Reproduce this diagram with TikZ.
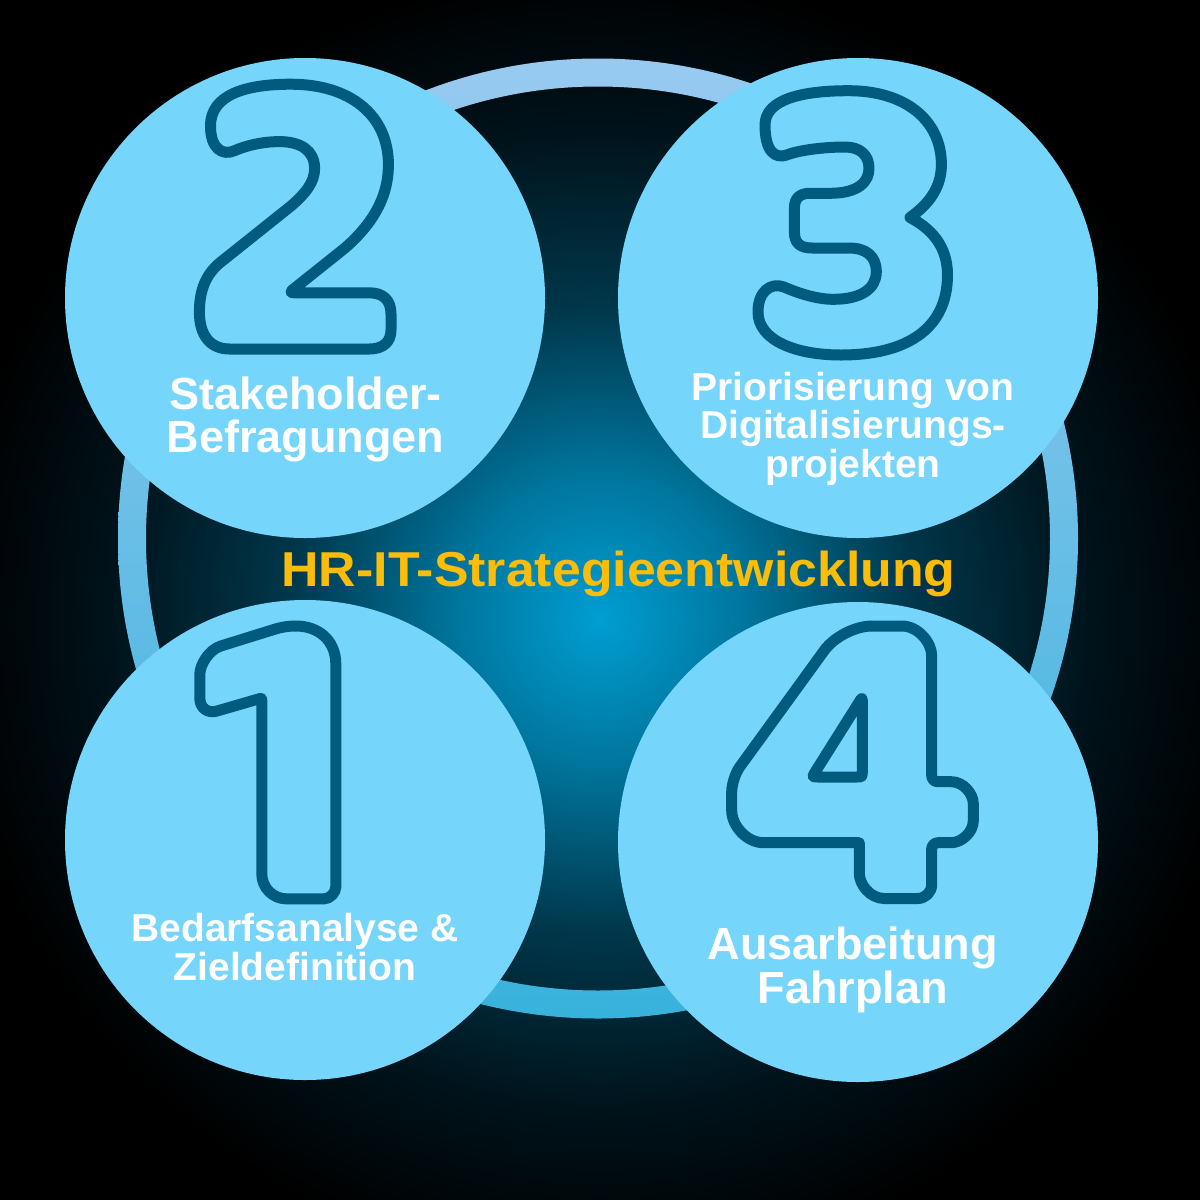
\documentclass[tikz,border=0pt]{standalone}
\usepackage{fontspec}
\usepackage{graphicx}
\setmainfont{Liberation Sans}
\definecolor{circfill}{RGB}{117,213,250}
\definecolor{digitc}{RGB}{0,91,127}
\definecolor{titlec}{RGB}{251,188,10}
\definecolor{ringtop}{RGB}{152,202,240}
\definecolor{ringbot}{RGB}{56,178,220}
\definecolor{glowa}{RGB}{0,158,210}
\definecolor{glowb}{RGB}{0,118,158}
\definecolor{glowc}{RGB}{0,55,75}
\definecolor{glowd}{RGB}{0,18,26}
\pgfdeclareradialshading{glowshade}{\pgfpointorigin}{color(0bp)=(glowa); color(5.5bp)=(glowb); color(12bp)=(glowc); color(19bp)=(glowd); color(25bp)=(black); color(50bp)=(black)}
\begin{document}
\begin{tikzpicture}[x=1pt,y=-1pt,
  stepcircle/.style={circle, fill=circfill, draw=none, minimum size=480pt, inner sep=0pt},
  digit/.style={draw=digitc, line width=11pt, line join=round, line cap=round},
  steptext/.style={text=white, font=\bfseries\fontsize{45pt}{45pt}\selectfont, inner sep=0pt, anchor=base},
  steptextsmall/.style={steptext, font=\bfseries\fontsize{39pt}{39pt}\selectfont},
  titletext/.style={text=titlec, font=\bfseries\fontsize{49pt}{49pt}\selectfont, inner sep=0pt, anchor=base}
]
\useasboundingbox (0,0) rectangle (1200,1200);
\fill[black] (0,0) rectangle (1200,1200);
\begin{scope}
  \clip (0,0) rectangle (1200,1200);
  \shade[shading=glowshade] (600,620) circle[radius=650];
\end{scope}
% ring
\shade[top color=ringtop, bottom color=ringbot, even odd rule]
  (598,538.5) circle[radius=480] (598,538.5) circle[radius=452];
% title
\node[titletext] (title) at (618.5,586.7) {\scalebox{1.058}[1]{HR-IT-Strategieentwicklung}};
% circles
\node[stepcircle] (c2) at (305,298) {};
\node[stepcircle] (c3) at (858,298) {};
\node[stepcircle] (c1) at (305,840) {};
\node[stepcircle] (c4) at (858,842) {};
% digit 2
\draw[digit] (210.5,126) .. controls (210.5,95) and (245,84.2) .. (290.8,84.2)
 .. controls (350,84.2) and (388.4,115) .. (388.4,164.6)
 .. controls (388.4,200) and (370,226) .. (345,248)
 -- (293,289.5) .. controls (289.5,292.3) and (291,292.8) .. (295,292.8)
 -- (369.3,292.8) .. controls (383,292.8) and (391,300) .. (391,314)
 -- (391,330) .. controls (391,342) and (383,349) .. (369.3,349)
 -- (229.6,349) .. controls (210,349) and (199.4,335) .. (199.4,312)
 .. controls (199.4,284) and (210,270) .. (224,259.5)
 -- (291,206) .. controls (306,193) and (314.6,182) .. (314.6,168.4)
 .. controls (314.6,150) and (300,141.6) .. (279.4,141.6)
 .. controls (262,141.6) and (245,146) .. (235,150.5)
 .. controls (222,156.5) and (210.5,148) .. (210.5,126) -- cycle;
% digit 3
\draw[digit] (765,125) .. controls (765,100) and (800,90.7) .. (848.8,90.7)
 .. controls (905,90.7) and (941.4,120) .. (941.4,164.6)
 .. controls (941.4,190) and (926,206) .. (910,217.5)
 .. controls (930,228) and (947.5,245) .. (947.5,275)
 .. controls (947.5,330) and (905,355) .. (841,355)
 .. controls (795,355) and (758,340) .. (758,312)
 .. controls (758,292) and (770,282) .. (784,287)
 .. controls (800,294) and (818,299.3) .. (833.4,299.3)
 .. controls (862,299.3) and (876.3,288) .. (876.3,271.7)
 .. controls (876.3,256) and (866,248) .. (848.8,248)
 -- (812,248) .. controls (800,248) and (794.4,243) .. (794.4,232)
 -- (794.4,208) .. controls (794.4,198) and (800,193.3) .. (810,193.3)
 -- (830,193.3) .. controls (858,193.3) and (869,182) .. (869,168.4)
 .. controls (869,155) and (860,147) .. (845,147)
 .. controls (825,147) and (800,150) .. (788,154.5)
 .. controls (774,160) and (765,150) .. (765,125) -- cycle;
% digit 1
\draw[digit] (261.8,702) -- (261.8,873.9) .. controls (261.8,887.7) and (273,898.9) .. (286.8,898.9)
 -- (323.8,898.9) .. controls (330.4,898.9) and (335.8,892.3) .. (335.8,886.9)
 -- (335.8,664) .. controls (335.8,640) and (318,626) .. (296,626)
 .. controls (287,626) and (280,627.5) .. (273.5,629.6)
 -- (220.8,646) .. controls (209.3,649.6) and (199.8,664.5) .. (199.8,674.5)
 -- (199.8,698) .. controls (199.8,708) and (207.5,713.8) .. (217.1,711)
 -- (258,699.1) .. controls (261.8,698) .. (261.8,702) -- cycle;
% digit 4
\draw[digit] (824.4,650.3) .. controls (834.1,636.9) and (855.4,626) .. (872,626)
 -- (901.7,626) .. controls (918.3,626) and (931.7,642.6) .. (931.7,656)
 -- (931.7,775.7) .. controls (931.7,779) and (934.4,781.7) .. (937.7,781.7)
 -- (951.3,781.7) .. controls (963.4,781.7) and (973.3,793.8) .. (973.3,803.7)
 -- (973.3,820.7) .. controls (973.3,832.6) and (961.2,842.7) .. (951.3,842.7)
 -- (937.7,842.7) .. controls (934.4,842.7) and (931.7,846) .. (931.7,848.7)
 -- (931.7,884.5) .. controls (931.7,892.2) and (925.4,898.5) .. (917.7,898.5)
 -- (884.3,898.5) .. controls (870.5,898.5) and (859.3,884.7) .. (859.3,873.5)
 -- (859.3,842.7)
 -- (763.7,842.7) .. controls (746,842.7) and (731.7,825) .. (731.7,810.7)
 -- (731.7,792) .. controls (731.7,784.3) and (735.4,772.9) .. (739.9,766.7)
 -- cycle;
\draw[digit] (858.6,702.9) .. controls (862.3,697) .. (862.3,704)
 -- (862.3,771) .. controls (862.3,777) .. (856.3,777)
 -- (818,777) .. controls (812,777) .. (815.7,771.1) -- cycle;
% texts
\node[steptext] (t2a) at (305.5,409.5) {Stakeholder-};
\node[steptext] (t2b) at (305.5,452.7) {Befragungen};
\node[steptextsmall] (t3a) at (853,400) {Priorisierung von};
\node[steptextsmall] (t3b) at (853,438.5) {Digitalisierungs-};
\node[steptextsmall] (t3c) at (853,477) {projekten};
\node[steptextsmall] (t1a) at (295,941.7) {Bedarfsanalyse \&};
\node[steptextsmall] (t1b) at (295,980.8) {Zieldefinition};
\node[steptext] (t4a) at (852.6,959.7) {Ausarbeitung};
\node[steptext] (t4b) at (852.6,1003) {Fahrplan};
\end{tikzpicture}
\end{document}
